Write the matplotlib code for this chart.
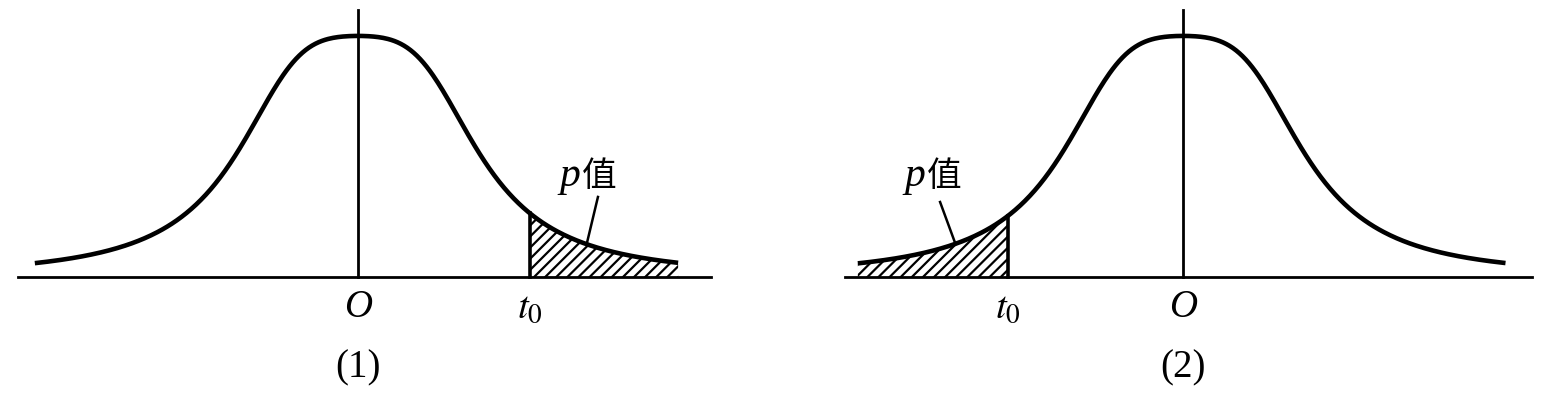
import matplotlib.pyplot as plt
import numpy as np

# shape of the bell curve, fitted to points
shape_a, shape_d, shape_c = 2.5, 1.075, 0.65

t0_values = [1.70, -1.73]          # t0 in panel (1) and (2)
tail_sides = ['right', 'left']
captions = ['(1)', '(2)']
curve_ranges = [(-3.20, 3.17), (-3.22, 3.19)]
base_ranges = [(-3.37, 3.50), (-3.35, 3.45)]
label_split = [2.198, -2.554]     # boundary between "p" and "值"
leader = [[(2.376, 0.332), (2.267, 0.141)], [(-2.406, 0.311), (-2.257, 0.141)]]
xlims = [(-3.545, 4.149), (-4.02, 3.67)]


def curve(t):
    # peak equals 1 at t = 0
    return (1 + (t / shape_a) ** 2 + (t / shape_d) ** 4) ** (-shape_c)


plt.rcParams['hatch.linewidth'] = 1.6
fig = plt.figure(figsize=(15.54, 4.05), dpi=100)
serif = ['Liberation Serif', 'Noto Sans CJK SC']

for i in range(2):
    ax = fig.add_axes([0.5 * i, 0, 0.5, 1])
    ax.set_xlim(*xlims[i])
    ax.set_ylim(-0.531, 1.149)
    ax.axis('off')

    t = np.linspace(*curve_ranges[i], 400)
    ax.plot(t, curve(t), color='black', lw=3.3, solid_capstyle='butt')
    ax.plot(base_ranges[i], [0, 0], color='black', lw=2.0)
    ax.plot([0, 0], [0, 1.108], color='black', lw=2.0)

    t0 = t0_values[i]
    if tail_sides[i] == 'right':
        ts = np.linspace(t0, curve_ranges[i][1], 200)
    else:
        ts = np.linspace(curve_ranges[i][0], t0, 200)
    ax.fill_between(ts, 0, curve(ts), facecolor='white', edgecolor='black',
                    hatch='///', linewidth=0)
    ax.plot([t0, t0], [0, curve(t0)], color='black', lw=2.6)

    ax.text(0, -0.166, 'O', ha='center', va='baseline', fontsize=28,
            style='italic', family=serif)
    ax.text(t0, -0.170, r'$t_0$', ha='center', va='baseline', fontsize=28,
            math_fontfamily='stix')
    ax.text(0, -0.415, captions[i], ha='center', va='baseline', fontsize=28,
            family=serif)

    ax.text(label_split[i], 0.378, 'p', ha='right', va='baseline', fontsize=30,
            style='italic', family=serif)
    ax.text(label_split[i] + 0.02, 0.378, '值', ha='left', va='baseline',
            fontsize=25, family=['Noto Sans CJK SC'])
    (x1, y1), (x2, y2) = leader[i]
    ax.plot([x1, x2], [y1, y2], color='black', lw=1.8)

fig.savefig('out.png', dpi=100, facecolor='white')
